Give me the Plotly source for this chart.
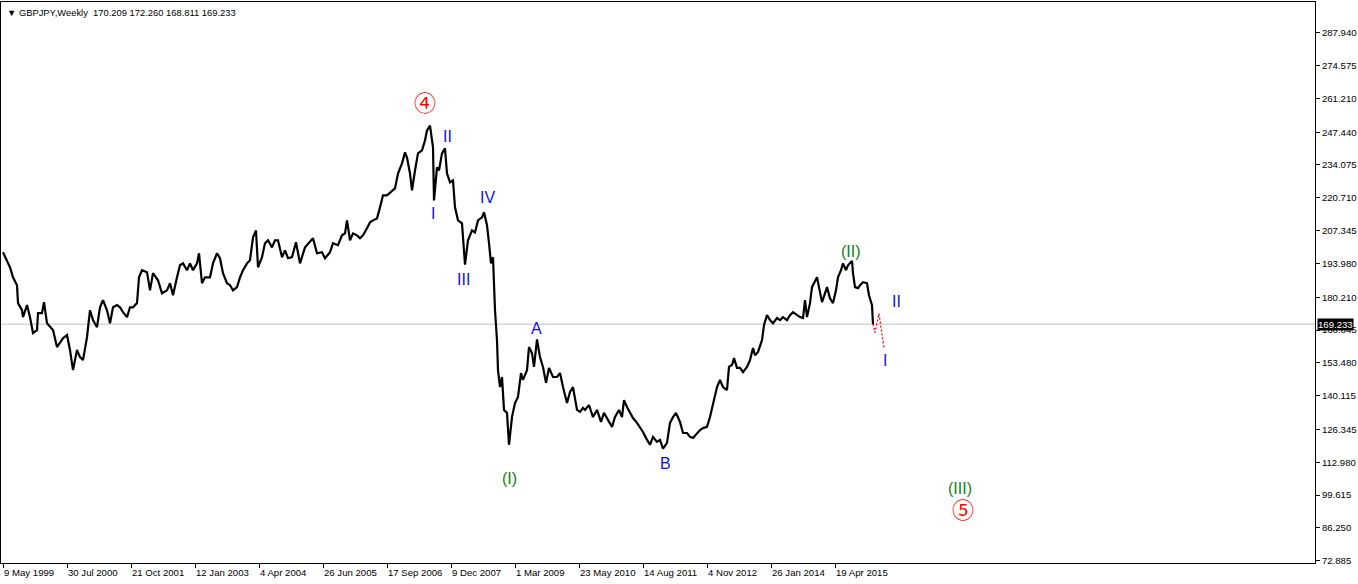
import plotly.graph_objects as go

# ---- data (weeks since 9 May 1999, approximate weekly closes) ----
weeks = [0, 4, 7, 10, 14, 15, 19, 20, 24, 27, 30, 34, 35, 39, 41, 44, 47, 50, 54, 57,
         60, 64, 67, 70, 74, 77, 80, 84, 87, 90, 94, 97, 100, 104, 107, 110, 114, 117, 120, 124,
         127, 130, 134, 136, 139, 144, 147, 150, 155, 159, 164, 167, 170, 174, 177, 180, 184, 187, 190, 194,
         196, 199, 202, 207, 210, 214, 217, 220, 224, 227, 230, 234, 237, 240, 244, 247, 250, 253, 255, 259,
         262, 265, 269, 272, 275, 279, 282, 285, 289, 293, 297,
         302, 307, 310, 314, 319, 322, 327, 330, 335, 339, 342, 344, 347, 350, 354, 357, 360, 364, 367, 370,
         374, 377, 380, 384, 387, 392, 395, 399, 402, 404, 407, 409, 412, 415, 419, 422, 424, 427, 430, 431,
         434, 436, 439, 442, 444, 447, 450, 452, 455, 459, 462, 465, 469, 472, 475, 479, 481, 484, 486, 488,
         490, 491, 492, 494, 495, 497, 499, 501, 504, 506, 509, 512, 515, 518, 520, 524, 526, 529, 531, 534,
         537, 540, 543, 546, 550, 554, 557, 560, 564, 567, 570, 574, 577, 580,
         582, 586, 590, 594, 598, 601, 605, 609, 612, 616, 619, 621, 624, 627, 630, 634, 637, 640, 644, 647,
         650, 654, 657, 660, 664, 667, 670, 673, 677, 680, 684, 687, 690, 694, 697, 700, 704, 707, 710, 714,
         717, 720, 724, 726, 729, 731, 734, 737, 740, 744, 747, 750, 752, 755, 759, 761, 764, 767, 770, 774,
         777, 780, 784, 787, 790, 794, 797, 800, 802, 804, 807, 809, 811, 814, 816, 819, 822, 824, 827, 830,
         833, 835, 838, 840, 843, 845, 849, 850, 852, 855, 857, 860, 864, 866, 869, 870]

prices = [198.5, 195.3, 192.4, 188.3, 185.1, 177.8, 174.9, 172.1, 177.0, 172.1, 165.6, 166.8, 173.7, 173.7, 178.2, 169.6, 168.0, 166.8, 159.9, 161.5,
          163.5, 164.8, 158.7, 150.5, 158.7, 155.8, 154.6, 163.9, 174.9, 170.9, 168.0, 176.1, 179.0, 174.9, 169.6, 176.1, 177.0, 176.1, 174.1, 172.1,
          176.1, 176.1, 177.8, 188.3, 191.2, 190.4, 183.0, 190.0, 187.1, 181.8, 183.0, 185.9, 181.0, 188.3, 193.2, 194.0, 191.2, 194.0, 191.2, 194.0,
          198.1, 185.9, 188.3, 188.3, 194.0, 198.1, 196.1, 190.0, 185.9, 185.1, 183.0, 184.3, 188.3, 191.2, 194.0, 195.3, 204.6, 207.4, 192.4, 196.5,
          202.2, 203.4, 200.5, 203.4, 203.4, 196.5, 199.3, 196.1, 196.5, 202.6, 194.0,
          200.5, 202.6, 204.2, 198.1, 198.5, 196.1, 198.5, 202.2, 201.4, 205.4, 206.2, 211.5, 203.4, 206.2, 205.4, 204.2, 205.4, 208.3, 210.7, 211.5,
          212.3, 216.8, 221.7, 221.7, 222.9, 224.5, 230.6, 234.7, 239.2, 237.1, 230.6, 223.7, 231.8, 238.8, 240.0, 244.0, 248.1, 250.1, 241.2, 219.6,
          233.1, 231.8, 238.8, 240.8, 230.6, 227.0, 227.8, 216.8, 211.5, 210.3, 193.5, 203.4, 207.4, 206.6, 211.5, 212.7, 214.8, 209.5, 202.2, 194.0,
          196.5, 183.0, 174.9, 162.7, 150.5, 143.6, 147.7, 134.3, 133.1, 120.1, 131.4, 137.1, 139.6, 149.3, 146.5, 150.5, 159.9, 157.4, 151.8, 163.0,
          155.8, 151.8, 145.3, 151.4, 147.7, 147.7, 149.3, 143.6, 137.1, 141.6, 143.6, 134.3, 133.5, 135.1,
          134.3, 136.3, 131.4, 134.3, 129.4, 133.1, 130.2, 127.4, 131.4, 134.3, 131.4, 138.3, 135.5, 133.1, 131.0, 129.0, 127.4, 125.3, 122.1, 120.1,
          123.3, 121.3, 122.1, 118.5, 120.9, 129.0, 131.4, 133.1, 129.4, 124.9, 124.9, 123.3, 122.9, 124.9, 126.1, 126.9, 127.4, 131.4, 137.1, 143.6,
          146.5, 143.6, 142.4, 151.8, 152.6, 155.4, 151.4, 151.4, 149.7, 151.8, 154.6, 159.5, 156.6, 157.9, 162.7, 168.8, 172.9, 170.9, 169.6, 171.7,
          170.9, 172.1, 170.9, 172.9, 174.1, 172.9, 172.1, 171.7, 179.0, 172.1, 177.8, 184.3, 185.9, 188.3, 184.3, 178.2, 181.8, 184.3, 179.8, 177.8,
          183.0, 188.3, 191.2, 194.0, 191.2, 193.2, 195.0, 190.0, 184.3, 183.9, 185.1, 186.3, 185.9, 181.0, 177.0, 169.233]

forecast_weeks = [870, 872, 876, 881]
forecast_prices = [169.233, 165.8, 173.5, 159.5]

last_price = 169.233
title_text = "GBPJPY,Weekly\u00a0\u00a0170.209 172.260 168.811 169.233"

x_tick_weeks = [0, 64, 128, 192, 256, 320, 384, 448, 512, 576, 640, 704, 768, 832]
x_tick_labels = ["9 May 1999", "30 Jul 2000", "21 Oct 2001", "12 Jan 2003", "4 Apr 2004",
                 "26 Jun 2005", "17 Sep 2006", "9 Dec 2007", "1 Mar 2009", "23 May 2010",
                 "14 Aug 2011", "4 Nov 2012", "26 Jan 2014", "19 Apr 2015"]

y_tick_labels = ["287.940", "274.575", "261.210", "247.440", "234.075", "220.710", "207.345",
                 "193.980", "180.210", "166.845", "153.480", "140.115", "126.345", "112.980",
                 "99.615", "86.250", "72.885"]

# wave labels: (week, price, text, colour, kind)
wave_labels = [
    (422, 260.3, "\u2463", "#ff0000", "circ"),
    (444, 245.7, "II", "#1010ee", "txt"),
    (430, 214.4, "I", "#1010ee", "txt"),
    (484, 220.9, "IV", "#1010ee", "txt"),
    (460, 187.5, "III", "#1010ee", "txt"),
    (533, 167.6, "A", "#1010ee", "txt"),
    (506, 106.2, "(I)", "#108010", "txt"),
    (662, 112.3, "B", "#1010ee", "txt"),
    (848, 198.9, "(II)", "#108010", "txt"),
    (893, 178.6, "II", "#1010ee", "txt"),
    (882, 154.6, "I", "#1010ee", "txt"),
    (957, 102.2, "(III)", "#108010", "txt"),
    (960, 94.4, "\u2464", "#ff0000", "circ"),
]

FONT = "Liberation Sans"

fig = go.Figure()
fig.add_trace(go.Scatter(x=weeks, y=prices, mode="lines",
                         line=dict(color="black", width=2.2), hoverinfo="skip"))
fig.add_trace(go.Scatter(x=forecast_weeks, y=forecast_prices, mode="lines",
                         line=dict(color="#ff0000", width=1.3, dash="2px,2px"), hoverinfo="skip"))

# current price line
fig.add_shape(type="line", xref="paper", x0=0, x1=1, yref="y", y0=last_price, y1=last_price,
              line=dict(color="#c0c0c0", width=1), layer="below")

annotations = []
for xv, yv, t, c, kind in wave_labels:
    if kind == "circ":
        f = dict(family="Noto Sans CJK JP", size=22, color=c)
    else:
        f = dict(family=FONT, size=16, color=c)
    annotations.append(dict(x=xv, y=yv, xref="x", yref="y", text=t, showarrow=False,
                            font=f, xanchor="center", yanchor="middle"))

for xv, lab in zip(x_tick_weeks, x_tick_labels):
    annotations.append(dict(x=xv, y=0, xref="x", yref="paper", text=lab, showarrow=False,
                            xanchor="left", yanchor="top", yshift=-2, xshift=-1,
                            font=dict(family=FONT, size=9.6, color="black")))

annotations.append(dict(x=0, y=1, xref="paper", yref="paper", xanchor="left", yanchor="top",
                        xshift=4, yshift=-3, showarrow=False,
                        text="\u25bc " + title_text, font=dict(family=FONT, size=9.4, color="black")))

annotations.append(dict(x=1, y=last_price, xref="paper", yref="y", xanchor="left", yanchor="middle",
                        xshift=2, showarrow=False, text="169.233",
                        bgcolor="black", borderpad=0,
                        font=dict(family=FONT, size=9.6, color="white")))

fig.update_layout(
    width=1358, height=584,
    margin=dict(l=1, r=43, t=2, b=21),
    paper_bgcolor="white", plot_bgcolor="white",
    showlegend=False,
    annotations=annotations,
    xaxis=dict(range=[-2, 1312], showgrid=False, zeroline=False,
               tickmode="array", tickvals=x_tick_weeks, showticklabels=False,
               ticks="outside", ticklen=4, tickcolor="black",
               showline=True, linecolor="black", linewidth=1, mirror=True),
    yaxis=dict(range=[71.95, 300.44], side="right", showgrid=False, zeroline=False,
               tickmode="array", tickvals=[float(v) for v in y_tick_labels], ticktext=y_tick_labels,
               ticks="outside", ticklen=4, tickcolor="black",
               tickfont=dict(family=FONT, size=9.6, color="black"),
               showline=True, linecolor="black", linewidth=1, mirror=True),
)

fig.write_html("out.html", config={"displayModeBar": False},
               post_script="document.body.style.margin='0px';document.body.style.overflow='hidden';")
